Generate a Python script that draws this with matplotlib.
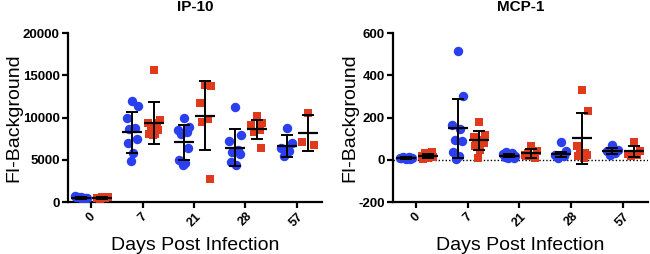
import numpy as np
import matplotlib
matplotlib.use("Agg")
import matplotlib.pyplot as plt

plt.rcParams['font.family'] = ['Liberation Sans', 'DejaVu Sans']

days = ["0", "7", "21", "28", "57"]

# IP-10 individual values (blue = group A circles, red = group B squares)
ip10_blue = [
    [600, 450, 700, 400, 550, 500, 650, 350],
    [12000, 11400, 10000, 8800, 8600, 7500, 7000, 5760, 4850],
    [10000, 8900, 8500, 8300, 8100, 6350, 4970, 4580, 4380],
    [11200, 7900, 7200, 6150, 5960, 5700, 4770, 4380],
    [8700, 7000, 6350, 6070, 5440],
]
ip10_red = [
    [600, 550, 450, 500, 400],
    [15600, 9700, 9400, 9300, 8900, 8500, 8100, 8050, 7900],
    [13900, 13750, 11700, 9800, 9500, 2750],
    [10200, 9400, 9100, 8500, 8300, 6430],
    [10500, 6800, 7100],
]
ip10_blue_mean = [500, 8240, 7060, 6430, 6600]
ip10_blue_sd = [150, 2450, 2100, 2170, 1300]
ip10_red_mean = [480, 9350, 10200, 8600, 8150]
ip10_red_sd = [80, 2450, 4100, 1150, 2100]

# MCP-1 individual values
mcp1_blue = [
    [5, 8, 10, 12, 15, 3, 7, 10, 6],
    [515, 300, 164, 145, 95, 90, 35, 16, 2],
    [15, 20, 25, 30, 35, 10, 12, 18, 8],
    [85, 40, 24, 16, 8, 32],
    [71, 47, 40, 32, 24],
]
mcp1_red = [
    [10, 15, 20, 25, 30, 35, 5, 12, 18],
    [180, 118, 110, 95, 87, 79, 63, 47, 8],
    [66, 40, 24, 16, 32, 8, 19],
    [332, 229, 66, 32, 28, 24, 16, 8],
    [82, 40, 28, 22, 16],
]
mcp1_blue_mean = [8, 150, 20, 25, 42]
mcp1_blue_sd = [4, 140, 9, 12, 16]
mcp1_red_mean = [18, 92, 30, 101, 40]
mcp1_red_sd = [9, 45, 20, 122, 25]

BLUE = '#2a3ff0'
RED = '#e03a1c'

fig = plt.figure(figsize=(6.5, 2.54), dpi=100)
ax1 = fig.add_axes([0.1046, 0.2047, 0.3908, 0.6653])
ax2 = fig.add_axes([0.6046, 0.2047, 0.3924, 0.6653])

def jitter_offsets(n, width=0.11):
    pattern = np.array([0, 1, -1, 0.5, -0.5, 0.8, -0.8, 0.2, -0.2, 0.6])
    return pattern[:n] * width

def draw(ax, blue, red, bm, bs, rm, rs):
    x = np.arange(len(days))
    for i in range(len(days)):
        for vals, off, color, marker, ms in [
            (blue[i], -0.2, BLUE, 'o', 6.8),
            (red[i], 0.22, RED, 's', 6.3),
        ]:
            xs = x[i] + off + jitter_offsets(len(vals))
            ax.plot(xs, vals, linestyle='none', marker=marker, color=color,
                    markersize=ms, markeredgewidth=0, zorder=3)
    for off, m, s in [(-0.2, bm, bs), (0.22, rm, rs)]:
        ax.errorbar(x + off, m, yerr=s, fmt='none', ecolor='black', elinewidth=1.4,
                    capsize=4.5, capthick=1.4, zorder=4)
        ax.scatter(x + off, m, marker='_', s=190, color='black', linewidths=1.6, zorder=5)
    ax.set_xticks(x)
    ax.set_xticklabels(days, rotation=45, fontweight='bold', fontsize=9,
                       ha='center', va='top')
    ax.set_xlim(-0.45, 4.49)
    for s in ['top', 'right']:
        ax.spines[s].set_visible(False)
    for s in ['left', 'bottom']:
        ax.spines[s].set_linewidth(1.6)
    ax.tick_params(axis='both', direction='out', length=4, width=1.6, pad=2)
    ax.set_xlabel('Days Post Infection', fontsize=14, labelpad=6)
    ax.set_ylabel('FI-Background', fontsize=14, labelpad=0)

draw(ax1, ip10_blue, ip10_red, ip10_blue_mean, ip10_blue_sd, ip10_red_mean, ip10_red_sd)
ax1.set_ylim(0, 20000)
ax1.set_yticks([0, 5000, 10000, 15000, 20000])
ax1.set_yticklabels(['0', '5000', '10000', '15000', '20000'], fontweight='bold', fontsize=9.5)
ax1.set_title('IP-10', fontweight='bold', fontsize=11, pad=16)

draw(ax2, mcp1_blue, mcp1_red, mcp1_blue_mean, mcp1_blue_sd, mcp1_red_mean, mcp1_red_sd)
ax2.set_ylim(-200, 600)
ax2.set_yticks([-200, 0, 200, 400, 600])
ax2.set_yticklabels(['-200', '0', '200', '400', '600'], fontweight='bold', fontsize=9.5)
ax2.axhline(0, color='black', linestyle=(0, (1, 1.5)), linewidth=1.0, zorder=1)
ax2.set_title('MCP-1', fontweight='bold', fontsize=11, pad=16)

fig.savefig('out.png', dpi=100)
